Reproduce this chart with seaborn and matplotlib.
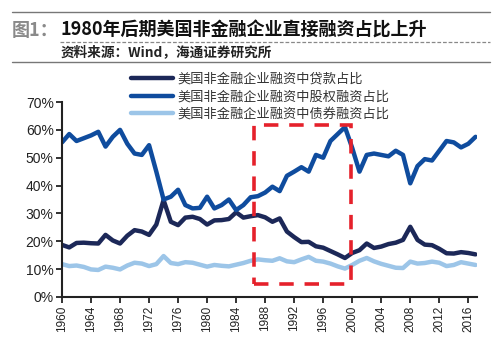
"""
Share of US non-financial corporate financing: loans, equity, bonds (1960-2017).
"""

import matplotlib
matplotlib.use("Agg")
import matplotlib.pyplot as plt
from matplotlib.lines import Line2D
from matplotlib.patches import Rectangle
import seaborn as sns
import pandas as pd

# Data (percent)
years = list(range(1960, 2018))

loan_share = [
    18.7, 17.8, 19.4, 19.5, 19.3, 19.2, 22.3, 20.3, 19.2, 22.0,
    24.0, 23.5, 22.3, 26.0, 34.8, 27.0, 25.8, 28.5, 28.8, 28.0,
    26.0, 27.5, 27.6, 28.0, 30.4, 28.5, 29.0, 29.4, 28.6, 27.0,
    28.2, 23.5, 21.5, 19.7, 19.8, 18.2, 17.7, 16.5, 15.3, 14.0,
    15.8, 16.8, 19.2, 17.6, 18.1, 19.0, 19.5, 20.5, 25.2, 20.5,
    18.8, 18.6, 17.3, 15.7, 15.6, 16.1, 15.8, 15.3,
]

equity_share = [
    55.5, 58.5, 56.0, 57.0, 58.0, 59.3, 54.0, 57.5, 60.0, 55.0,
    51.5, 51.0, 54.5, 45.0, 35.0, 36.0, 38.5, 33.0, 31.8, 32.0,
    36.0, 31.8, 33.0, 35.0, 31.2, 33.0, 35.8, 36.2, 37.5, 39.6,
    38.0, 43.5, 45.0, 46.6, 45.0, 51.0, 50.0, 56.0, 58.5, 61.0,
    53.5, 45.0, 51.0, 51.5, 51.0, 50.5, 52.5, 51.0, 40.8, 47.0,
    49.5, 49.0, 52.5, 56.0, 55.5, 53.7, 55.0, 57.5,
]

bond_share = [
    11.8, 11.1, 11.3, 10.8, 9.9, 9.7, 10.9, 10.5, 9.9, 11.3,
    12.3, 12.0, 11.1, 11.8, 14.7, 12.2, 11.8, 12.5, 12.3, 11.6,
    10.9, 11.5, 11.2, 11.0, 11.6, 12.2, 13.0, 13.5, 13.2, 13.0,
    13.9, 12.8, 12.5, 13.5, 14.4, 13.0, 12.7, 12.0, 11.0, 10.2,
    11.5, 13.0, 14.0, 12.8, 11.9, 11.2, 10.5, 10.4, 12.7, 12.0,
    12.2, 12.7, 12.3, 11.1, 11.5, 12.5, 12.0, 11.5,
]

series_names = [
    "美国非金融企业融资中贷款占比",
    "美国非金融企业融资中股权融资占比",
    "美国非金融企业融资中债券融资占比",
]
series_colors = ["#1c2858", "#0f4c9e", "#9cc5e8"]

x_ticks = list(range(1960, 2017, 4))
y_ticks = [0, 10, 20, 30, 40, 50, 60, 70]

title_prefix = "图1："
title_text = "1980年后期美国非金融企业直接融资占比上升"
source_text = "资料来源：Wind，海通证券研究所"

CJK = ["Noto Sans CJK SC", "DejaVu Sans"]


def build_frame():
    """Long-form table for seaborn."""
    frames = []
    for name, vals in zip(series_names, [loan_share, equity_share, bond_share]):
        frames.append(pd.DataFrame({"year": years, "share": vals, "series": name}))
    return pd.concat(frames, ignore_index=True)


def plot_chart(save_path="out.png"):
    sns.set_style("ticks")
    plt.rcParams["font.family"] = ["Liberation Sans", "Noto Sans CJK SC"]

    fig = plt.figure(figsize=(5.0, 3.58), dpi=100)
    W, H = 500, 358
    ax = fig.add_axes([62 / W, 1 - 297 / H, (477 - 62) / W, (297 - 102) / H])

    df = build_frame()
    sns.lineplot(
        data=df, x="year", y="share", hue="series",
        hue_order=series_names, palette=series_colors,
        linewidth=3.2, legend=False, ax=ax,
    )
    for ln in ax.get_lines():
        ln.set_solid_joinstyle("round")
        ln.set_solid_capstyle("round")

    # red dashed highlight box around the late-1980s / 1990s period
    box = Rectangle((1986.5, 4.6), 1999.8 - 1986.5, 61.7 - 4.6,
                    fill=False, edgecolor="#e5212b", linewidth=2.6,
                    linestyle=(0, (4, 3)), zorder=5, clip_on=False)
    ax.add_patch(box)

    ax.set_xlim(1960, 2017.2)
    ax.set_ylim(0, 70)
    ax.set_xticks(x_ticks)
    ax.set_xticklabels([str(t) for t in x_ticks], rotation=90, fontsize=8.5)
    ax.set_yticks(y_ticks)
    ax.set_yticklabels([f"{t}%" for t in y_ticks], fontsize=10)
    ax.set_xlabel("")
    ax.set_ylabel("")
    ax.tick_params(axis="both", direction="out", length=4, width=1.3,
                   colors="#222222", pad=2)
    sns.despine(ax=ax)
    for side in ["left", "bottom"]:
        ax.spines[side].set_linewidth(1.5)
        ax.spines[side].set_color("#222222")

    # legend
    handles = [Line2D([], [], color=c, linewidth=3.2) for c in series_colors]
    leg = ax.legend(handles, series_names, loc="upper left",
                    bbox_to_anchor=(131 / W, 1 - 73 / H),
                    bbox_transform=fig.transFigure, frameon=False,
                    prop={"family": CJK, "size": 9.5},
                    handlelength=3.2, handletextpad=0.3,
                    labelspacing=0.32, borderpad=0, borderaxespad=0)
    for txt in leg.get_texts():
        txt.set_color("#333333")

    # header block
    fig.add_artist(Line2D([12 / W, 490 / W], [1 - 12 / H] * 2,
                          color="#777777", linewidth=1.0))
    fig.text(12 / W, 1 - 30 / H, title_prefix, fontsize=13, color="#8a8a8a",
             fontweight="bold", family=CJK, va="center", ha="left")
    fig.text(60 / W, 1 - 30 / H, title_text, fontsize=13, color="#111111",
             fontweight="bold", family=CJK, va="center", ha="left")
    fig.add_artist(Line2D([60 / W, 490 / W], [1 - 42 / H] * 2,
                          color="#888888", linewidth=0.9,
                          linestyle=(0, (3, 1.5))))
    fig.text(61 / W, 1 - 52.5 / H, source_text, fontsize=9.8, color="#222222",
             fontweight="bold", family=CJK, va="center", ha="left")
    fig.add_artist(Line2D([12 / W, 490 / W], [1 - 62 / H] * 2,
                          color="#777777", linewidth=1.0))

    fig.savefig(save_path, dpi=100)
    plt.close(fig)


if __name__ == "__main__":
    plot_chart()
